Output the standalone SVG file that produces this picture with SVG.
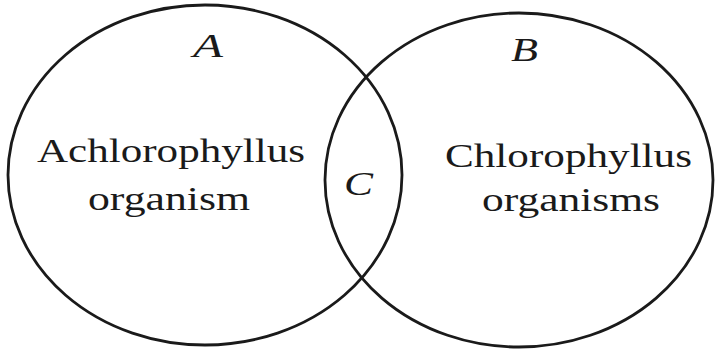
<svg xmlns="http://www.w3.org/2000/svg" width="717" height="355" viewBox="0 0 717 355">
<style>
.ring{fill:none;stroke:#1a1a1a;stroke-width:2.8}
.lbl{font-family:"Liberation Serif","Times New Roman",serif;font-size:34px;fill:#1a1a1a}
.it{font-style:italic}
</style>
<rect width="717" height="355" fill="#fff"/>
<g id="setA">
<ellipse class="ring" cx="205" cy="175" rx="197" ry="170"/>
<text class="lbl it" x="193" y="57" textLength="30" lengthAdjust="spacingAndGlyphs">A</text>
<text class="lbl" x="37" y="162" textLength="268" lengthAdjust="spacingAndGlyphs">Achlorophyllus</text>
<text class="lbl" x="88" y="210" textLength="162" lengthAdjust="spacingAndGlyphs">organism</text>
</g>
<g id="setB">
<ellipse class="ring" cx="519" cy="180" rx="194" ry="167"/>
<text class="lbl it" x="511" y="61" textLength="27" lengthAdjust="spacingAndGlyphs">B</text>
<text class="lbl" x="445" y="167" textLength="247" lengthAdjust="spacingAndGlyphs">Chlorophyllus</text>
<text class="lbl" x="482" y="211" textLength="178" lengthAdjust="spacingAndGlyphs">organisms</text>
</g>
<g id="setC">
<text class="lbl it" x="344" y="195" textLength="29" lengthAdjust="spacingAndGlyphs">C</text>
</g>
<g id="connectors"></g>
</svg>
